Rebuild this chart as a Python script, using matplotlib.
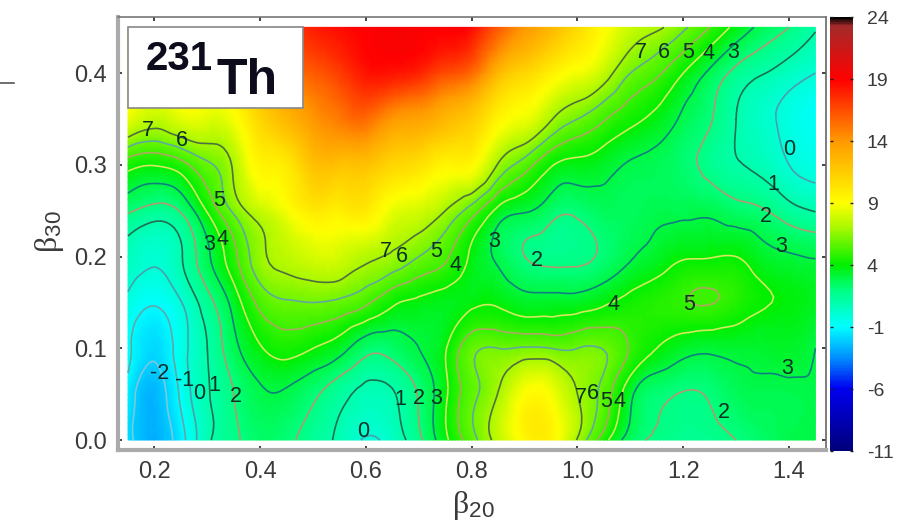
import numpy as np
import matplotlib
matplotlib.use('Agg')
import matplotlib.pyplot as plt
import matplotlib.tri as mtri
from matplotlib.colors import LinearSegmentedColormap
from matplotlib.patches import Rectangle
from matplotlib.lines import Line2D

plt.rcParams['font.family'] = ['Liberation Sans', 'DejaVu Sans']
plt.rcParams['mathtext.fontset'] = 'custom'
plt.rcParams['mathtext.rm'] = 'Liberation Serif'
plt.rcParams['mathtext.sf'] = 'Liberation Sans'
plt.rcParams['mathtext.it'] = 'Liberation Serif:italic'
plt.rcParams['axes.unicode_minus'] = False

# grid of the map
beta20 = [0.15, 0.20, 0.25, 0.30, 0.35, 0.40, 0.45, 0.50, 0.55, 0.60, 0.65, 0.70, 0.75, 0.80,
          0.85, 0.90, 0.95, 1.00, 1.05, 1.10, 1.15, 1.20, 1.25, 1.30, 1.35, 1.40, 1.45]
beta30 = [0.00, 0.05, 0.10, 0.15, 0.20, 0.25, 0.30, 0.35, 0.40, 0.45]

# one line for each beta20, going up in beta30
energy = [
    [-1.7, -1.3, -0.8, -0.25, 0.6, 2.15, 4.4, 8.5, 9.5, 10],
    [-2.8, -2.6, -1.8, -0.9, 0.1, 1.6, 4.05, 7.6, 9, 10],
    [-1.4, -0.8, -0.45, -0.05, 0.9, 2.1, 4.6, 8.3, 9.5, 10.5],
    [0.8, 0.9, 1.0, 1.6, 2.8, 4.1, 5.8, 8.3, 9.5, 11],
    [1.8, 2, 2.7, 3.4, 4.7, 6.2, 7.2, 8.8, 10.5, 12.5],
    [2.4, 2.85, 3.9, 5.3, 6.7, 7.7, 9.5, 11, 13, 15],
    [2.2, 2.85, 4.4, 5.9, 7.5, 8.8, 10, 12.5, 15, 17],
    [1.5, 2.2, 4, 6, 8, 10, 12, 14, 16, 18],
    [0.8, 1.35, 3.4, 5.8, 8, 9.8, 12, 15, 17, 18.6],
    [-0.1, 0.7, 2.35, 5.2, 7.3, 10, 12, 15.5, 18.3, 19],
    [0.4, 0.9, 2.4, 4.2, 6.8, 8.5, 11, 14, 18.3, 19.2],
    [1.75, 2.1, 3, 3.8, 6, 8, 10.5, 13.5, 17.8, 19.2],
    [3.75, 3.8, 3.9, 3.6, 5.2, 7, 9.5, 12.5, 16.5, 19],
    [5.6, 5.7, 5.7, 3.8, 3.8, 5.5, 9.3, 11.5, 15.5, 18.6],
    [7.5, 7.05, 6, 3.85, 2.8, 3.7, 6.9, 9.5, 12.5, 16],
    [9.3, 9, 6.1, 3.4, 2, 3.1, 5.5, 8.6, 11, 14],
    [9.5, 8.8, 6, 3.4, 1.75, 2.4, 4.1, 7.1, 9.7, 12.5],
    [6.9, 7, 6, 3.45, 1.8, 2.2, 3.7, 6, 8.7, 10.8],
    [4.4, 5.6, 5.95, 3.85, 2.2, 2.6, 3.4, 5.1, 7.6, 9.1],
    [2.5, 3.25, 4.9, 4.3, 2.9, 2.6, 2.9, 4.3, 6, 7.8],
    [1.85, 2.2, 4, 4.6, 3.4, 2.8, 2.7, 3.7, 5.2, 7.2],
    [1.6, 1.95, 3.4, 4.9, 3.9, 2.8, 2.3, 2.8, 4, 6.2],
    [1.7, 2.1, 3.2, 5.05, 3.95, 2.8, 1.7, 2.1, 2.8, 5],
    [2, 2.6, 3.3, 4.6, 4, 2.4, 1.1, 1, 1.7, 3.7],
    [2.4, 2.8, 3.3, 4.1, 3.4, 2.1, 0.7, 0.3, 1.05, 2.7],
    [2.9, 2.8, 3.4, 3.85, 3.1, 1.4, 0, -0.3, 0.5, 2],
    [2.85, 2.9, 3, 3.5, 2.95, 0.95, -0.35, -0.8, 0, 1.1],
]

levels = [-2, -1, 0, 1, 2, 3, 4, 5, 6, 7]
level_colors = ['#78c8e0', '#5fa8a8', '#4a9fb0', '#1f6f50', '#b09a70',
                '#0f8080', '#d4e860', '#b0a860', '#60a8a0', '#4f7040']

# printed contour numbers
label_text = ['7', '6', '5', '4', '3', '7', '6', '5', '4', '3', '7', '6', '5', '4', '3',
              '-2', '-1', '0', '1', '2', '0', '1', '2', '3', '2', '4', '5', '7', '6', '5',
              '4', '3', '2', '0', '1', '2', '3']
label_x = [1.12, 1.164, 1.209, 1.247, 1.294, 0.188, 0.252, 0.322, 0.328, 0.303, 0.638, 0.668, 0.732, 0.77, 0.842,
           0.21, 0.256, 0.284, 0.314, 0.354, 0.594, 0.664, 0.70, 0.732, 0.923, 1.069, 1.211,
           1.007, 1.029, 1.054, 1.079, 1.396, 1.277, 1.40, 1.37, 1.357, 1.385]
label_y = [0.423, 0.423, 0.423, 0.421, 0.423, 0.337, 0.327, 0.261, 0.219, 0.213, 0.206, 0.20, 0.206, 0.19, 0.216,
           0.072, 0.065, 0.051, 0.059, 0.047, 0.009, 0.044, 0.045, 0.045, 0.196, 0.148, 0.148,
           0.046, 0.051, 0.042, 0.042, 0.0785, 0.03, 0.317, 0.279, 0.244, 0.211]

cbar_ticks = [-11, -6, -1, 4, 9, 14, 19, 24]

cmap = LinearSegmentedColormap.from_list('map', [
    (0.0, '#00007a'), (5 / 35, '#0000f0'), (7.5 / 35, '#0090ff'), (10 / 35, '#00ffff'),
    (13 / 35, '#00ff80'), (15 / 35, '#00f000'), (18 / 35, '#a8f800'), (20 / 35, '#ffff00'),
    (25 / 35, '#ff9a00'), (30 / 35, '#ff0000'), (34.3 / 35, '#a52a2a'), (1.0, '#000000')])

W, H = 912, 529
fig = plt.figure(figsize=(W / 100, H / 100), dpi=100)
ax = fig.add_axes([118 / W, 1 - 450 / H, 708 / W, 433 / H])

z = np.array(energy).T
xg, yg = np.meshgrid(beta20, beta30)

# matplotlib's own refiner, so the contours come out round and not as polygons
tri = mtri.Triangulation(xg.ravel(), yg.ravel())
refiner = mtri.UniformTriRefiner(tri)
tri_fine, z_fine = refiner.refine_field(z.ravel(), subdiv=3)

im = ax.tripcolor(tri_fine, z_fine, shading='gouraud', cmap=cmap, vmin=-11, vmax=24)
ax.tricontour(tri_fine, z_fine, levels=levels, colors=level_colors, linewidths=1.2)

for t, x, y in zip(label_text, label_x, label_y):
    ax.text(x, y, t, fontsize=15.5, color='#0a3025', ha='center', va='center')

ax.set_xlim(0.131, 1.47)
ax.set_ylim(-0.0109, 0.4613)
ax.set_xticks([0.2, 0.4, 0.6, 0.8, 1.0, 1.2, 1.4])
ax.set_yticks([0.0, 0.1, 0.2, 0.3, 0.4])
ax.tick_params(direction='in', length=3, width=1.2, color='#222222', labelcolor='#3a3a3a',
               labelsize=17, top=True, right=True, pad=8)
for side, c, w in [('left', '#aaaaaa', 3), ('bottom', '#aaaaaa', 3), ('top', '#777777', 1.2), ('right', '#666666', 1.2)]:
    ax.spines[side].set_color(c)
    ax.spines[side].set_linewidth(w)

ax.add_patch(Rectangle((0.15, 0.362), 0.33, 0.088, facecolor='white', edgecolor='#888888', lw=1.2, zorder=5))
ax.text(0.183, 0.404, '231', fontsize=29, fontweight='bold', color='#0c0c1c', zorder=6)
ax.text(0.318, 0.377, 'Th', fontsize=36, fontweight='bold', color='#0c0c1c', zorder=6)

fig.text(473 / W, 1 - 505 / H, r'$\mathrm{\beta}_{\mathsf{20}}$', fontsize=23, color='#3a3a3a', ha='center', va='center')
fig.text(49 / W, 1 - 232 / H, r'$\mathrm{\beta}_{\mathsf{30}}$', fontsize=23, color='#3a3a3a', rotation=90, ha='center', va='center')

fig.add_artist(Line2D([0, 14 / W], [1 - 83 / H, 1 - 83 / H], color='#555555', lw=1.2))

cax = fig.add_axes([830 / W, 1 - 451 / H, 23 / W, 434 / H])
cb = fig.colorbar(im, cax=cax, ticks=cbar_ticks)
cb.outline.set_visible(False)
cax.tick_params(direction='in', length=2.5, width=1, color='#222222', labelcolor='#3a3a3a',
                labelsize=14, left=True, right=True, pad=10)

fig.savefig('out.png', dpi=100)
